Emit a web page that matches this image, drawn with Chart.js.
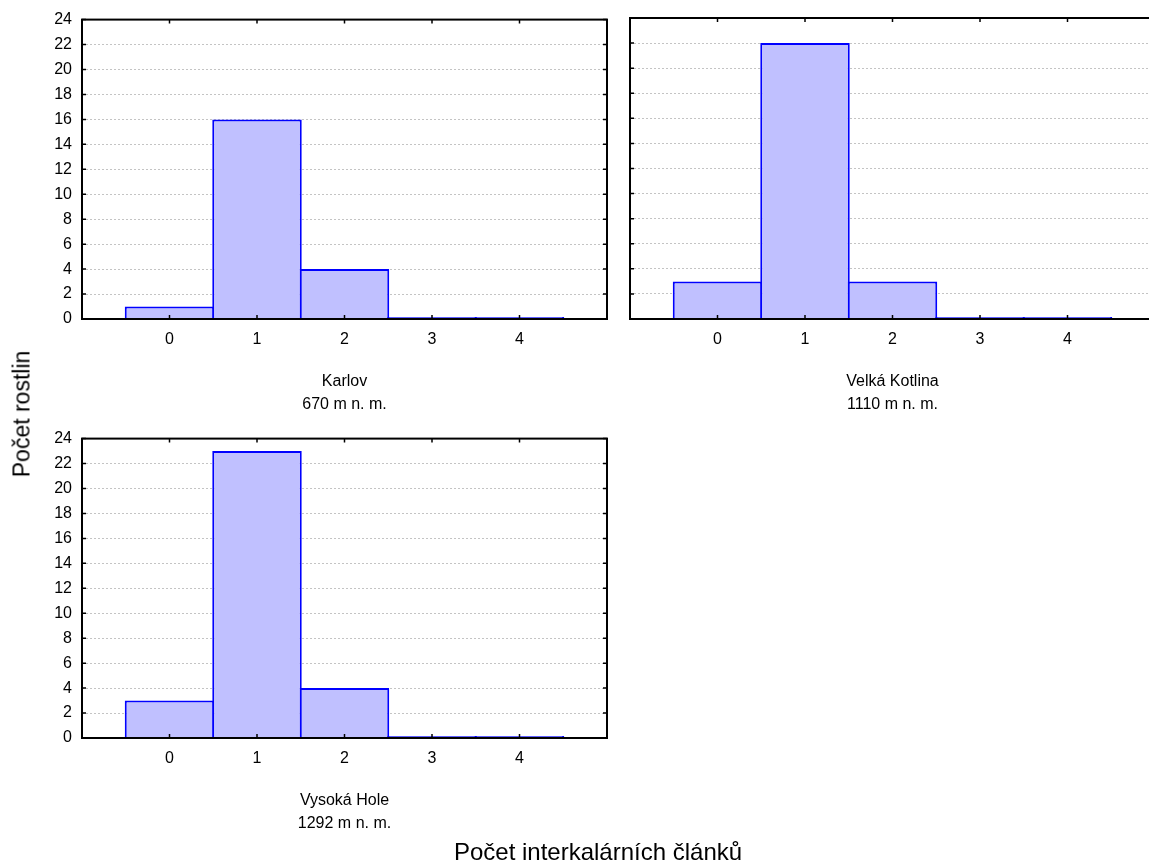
<!DOCTYPE html>
<html>
<head>
<meta charset="utf-8">
<script src="https://cdn.jsdelivr.net/npm/chart.js@4.4.1/dist/chart.umd.min.js"></script>
<style>
  body { margin: 0; width: 1149px; height: 868px; overflow: hidden; background: #fff; position: relative; font-family: "Liberation Sans", Arial, sans-serif; }
  canvas { position: absolute; }
  #ytitle { position: absolute; left: 22px; top: 414px; transform: translate(-50%, -50%) rotate(-90deg); font-size: 23px; white-space: nowrap; color: #000; }
  #xtitle { position: absolute; left: 598px; top: 852px; transform: translate(-50%, -50%); font-size: 24px; white-space: nowrap; color: #000; }
</style>
</head>
<body>
<canvas id="c1" width="620" height="420" style="left:0px;top:0px"></canvas>
<canvas id="c2" width="620" height="420" style="left:548px;top:0px"></canvas>
<canvas id="c3" width="620" height="420" style="left:0px;top:419px"></canvas>
<div id="ytitle">Počet rostlin</div>
<div id="xtitle">Počet interkalárních článků</div>
<script>
// number of intercalary segments (histogram classes)
const classes = [0, 1, 2, 3, 4];
const yTicks = [0, 2, 4, 6, 8, 10, 12, 14, 16, 18, 20, 22, 24];

const karlov = [1, 16, 4, 0, 0];
const velkaKotlina = [3, 22, 3, 0, 0];
const vysokaHole = [3, 23, 4, 0, 0];

const titles = [
  ['Karlov', '670 m n. m.'],
  ['Velká Kotlina', '1110 m n. m.'],
  ['Vysoká Hole', '1292 m n. m.']
];

// frame with inward tick marks like the original
const framePlugin = {
  id: 'frame',
  afterDraw(chart) {
    const ctx = chart.ctx;
    const a = chart.chartArea;
    const xs = chart.scales.x, ys = chart.scales.y;
    ctx.save();
    ctx.strokeStyle = '#000';
    ctx.lineWidth = 2;
    ctx.strokeRect(a.left, a.top, a.right - a.left, a.bottom - a.top);
    ctx.lineWidth = 1.5;
    ctx.beginPath();
    for (const v of classes) {
      const px = xs.getPixelForValue(v);
      ctx.moveTo(px, a.bottom); ctx.lineTo(px, a.bottom - 4);
      ctx.moveTo(px, a.top); ctx.lineTo(px, a.top + 4);
    }
    for (const v of yTicks) {
      const py = ys.getPixelForValue(v);
      ctx.moveTo(a.left, py); ctx.lineTo(a.left + 4, py);
      ctx.moveTo(a.right, py); ctx.lineTo(a.right - 4, py);
    }
    ctx.stroke();
    ctx.restore();
  }
};

function makePanel(id, values, title, showY) {
  const pts = classes.map((c, i) => ({ x: c, y: values[i] }));
  new Chart(document.getElementById(id), {
    type: 'bar',
    data: {
      datasets: [{
        data: pts,
        backgroundColor: '#c0c0ff',
        borderColor: '#0000ff',
        borderWidth: 2,
        borderSkipped: 'start',
        minBarLength: 2,
        barPercentage: 1.023,
        categoryPercentage: 1
      }]
    },
    options: {
      responsive: false,
      animation: false,
      layout: { padding: { top: 18, right: 13, left: 0, bottom: 0 } },
      plugins: { legend: { display: false }, tooltip: { enabled: false } },
      scales: {
        x: {
          type: 'linear',
          offset: false,
          min: -1,
          max: 5,
          afterBuildTicks: s => { s.ticks = classes.map(v => ({ value: v })); },
          afterFit: s => { s.height = 101; },
          grid: { display: false, drawTicks: false },
          border: { display: false },
          ticks: {
            padding: 11,
            color: '#000',
            font: { family: 'Liberation Sans', size: 16 }
          },
          title: {
            display: true,
            text: title,
            color: '#000',
            font: { family: 'Liberation Sans', size: 16, lineHeight: 23 / 16 },
            padding: { bottom: 4 }
          }
        },
        y: {
          min: 0,
          max: 24,
          afterBuildTicks: s => { s.ticks = yTicks.map(v => ({ value: v })); },
          afterFit: s => { s.width = 82; },
          border: { display: false, dash: [2, 2] },
          grid: {
            drawTicks: false,
            color: '#c4c4c4',
            lineWidth: 1
          },
          ticks: {
            display: showY,
            padding: 10,
            color: '#000',
            font: { family: 'Liberation Sans', size: 16 }
          }
        }
      }
    },
    plugins: [framePlugin]
  });
}

makePanel('c1', karlov, titles[0], true);
makePanel('c2', velkaKotlina, titles[1], false);
makePanel('c3', vysokaHole, titles[2], true);
</script>
</body>
</html>
